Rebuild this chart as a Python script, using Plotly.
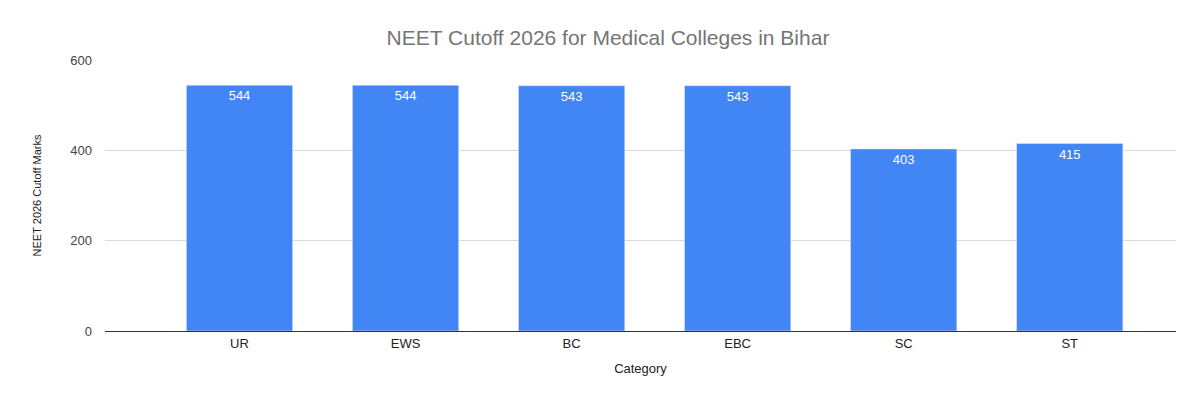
import plotly.graph_objects as go

categories = ["UR", "EWS", "BC", "EBC", "SC", "ST"]
cutoff = [544, 544, 543, 543, 403, 415]

fig = go.Figure(go.Bar(
    x=categories, y=cutoff, text=cutoff, textposition="inside",
    insidetextanchor="end", textfont=dict(color="white", size=13, family="Arial"),
    marker_color="#4285F4", width=0.64,
))
fig.update_layout(
    width=1200, height=400, plot_bgcolor="white", paper_bgcolor="white",
    margin=dict(l=97, r=32, t=52, b=77),
    title=dict(text="NEET Cutoff 2026 for Medical Colleges in Bihar", x=0.5, y=0.925,
               xanchor="center", yanchor="middle", font=dict(size=21, color="#757575", family="Arial")),
    font=dict(family="Arial", color="#444"),
    showlegend=False,
)
fig.update_yaxes(range=[0, 600], tickvals=[0, 200, 400, 600], gridcolor="#d9d9d9",
                 zeroline=False, tickfont=dict(size=13, color="#444"),
                 title=dict(text="NEET 2026 Cutoff Marks", font=dict(size=11, family="Liberation Sans", color="#222"), standoff=26),
                 ticks="", ticklabelstandoff=12)
fig.update_xaxes(range=[-0.81, 5.64], showline=True, linecolor="#333", tickfont=dict(size=13, color="#222"),
                 title=dict(text="Category", font=dict(size=13, color="#222"), standoff=14))
fig.write_html("out.html")
